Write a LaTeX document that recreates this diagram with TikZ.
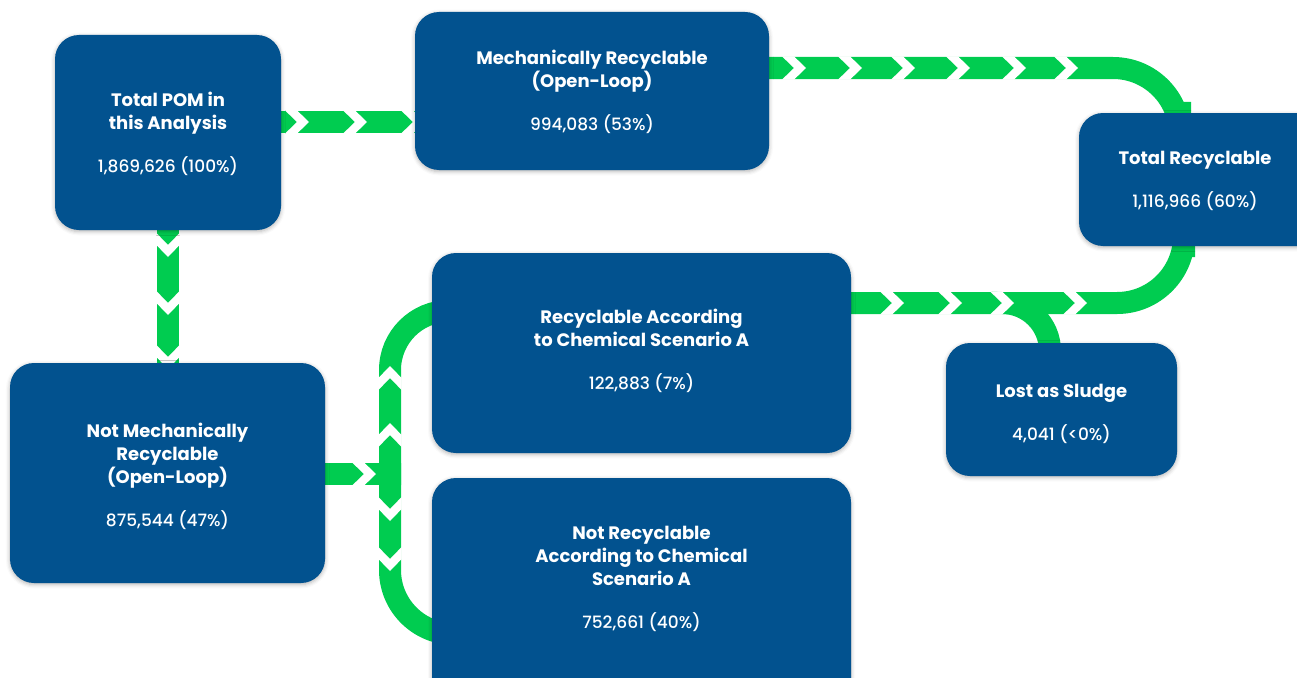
\documentclass[tikz,border=0pt]{standalone}
\usepackage{fontspec}
\setmainfont{Poppins}
\newfontfamily\numfont{Poppins Medium}
\usetikzlibrary{shadows.blur}
\definecolor{flowgreen}{HTML}{00CC50}
\definecolor{boxblue}{HTML}{02528F}
\pgfdeclarelayer{bands}
\pgfsetlayers{bands,main}
% white chevron-shaped gap cut into a green band; #1,#2 = where the gap starts, #3 = direction
\newcommand\flowgap[3]{\fill[white,shift={(#1,#2)},rotate=#3]
  (0,11.6) -- (12,11.6) -- (24,0) -- (12,-11.6) -- (0,-11.6) -- (12,0) -- cycle;}
% title lines and the figure line of a box
\newcommand\ttl[1]{{\fontsize{18}{23}\selectfont\bfseries #1}}
\newcommand\fig[1]{{\numfont #1}}
\begin{document}
\begin{tikzpicture}[x=1pt,y=-1pt,
  band/.style={draw=flowgreen,line width=22pt,line cap=rect},
  box/.style={fill=boxblue,rounded corners=24pt,inner sep=0pt,
    blur shadow={shadow xshift=0pt,shadow yshift=-1.5pt,shadow blur radius=4pt,shadow opacity=30}},
  boxtext/.style={text=white,align=center,inner sep=0pt,font=\fontsize{17}{23}\selectfont}]
\useasboundingbox (0,0) rectangle (1297,677);

% boxes
\node[box,minimum width=226pt,minimum height=195pt] (b1) at (168,132.5) {};
\node[box,minimum width=354pt,minimum height=158pt] (b2) at (592,91) {};
\node[box,minimum width=260pt,minimum height=133pt] (b3) at (1209,179.5) {};
\node[box,minimum width=419pt,minimum height=200pt] (b4) at (641.5,353) {};
\node[box,minimum width=231pt,minimum height=133pt] (b5) at (1061.5,409.5) {};
\node[box,minimum width=315pt,minimum height=220pt] (b6) at (167.5,473) {};
\node[box,minimum width=419pt,minimum height=240pt] (b7) at (641.5,598) {};

% box texts
\node[boxtext] (t1) at (168,133.5)
  {\ttl{Total POM in}\\\ttl{this Analysis}\\[20pt]\fig{1,869,626 (100\%)}};
\node[boxtext] (t2) at (592,92)
  {\ttl{Mechanically Recyclable}\\\ttl{(Open-Loop)}\\[20pt]\fig{994,083 (53\%)}};
\node[boxtext] (t3) at (1195,180.5)
  {\ttl{Total Recyclable}\\[20pt]\fig{1,116,966 (60\%)}};
\node[boxtext] (t4) at (641.5,351)
  {\ttl{Recyclable According}\\\ttl{to Chemical Scenario A}\\[20pt]\fig{122,883 (7\%)}};
\node[boxtext] (t5) at (1061.5,413.5)
  {\ttl{Lost as Sludge}\\[20pt]\fig{4,041 (<0\%)}};
\node[boxtext] (t6) at (167.5,476)
  {\ttl{Not Mechanically}\\\ttl{Recyclable}\\\ttl{(Open-Loop)}\\[20pt]\fig{875,544 (47\%)}};
\node[boxtext] (t7) at (641.5,579)
  {\ttl{Not Recyclable}\\\ttl{According to Chemical}\\\ttl{Scenario A}\\[20pt]\fig{752,661 (40\%)}};

\begin{pgfonlayer}{bands}
  % green flow bands
  \draw[band] (b1.east |- 0,122) -- (b2.west |- 0,122);
  \draw[band] (b2.east |- 0,68) -- (1113,68) arc[start angle=-90,end angle=0,radius=67]
    -- (b3.north -| 1180,0);
  \draw[band] (b4.east |- 0,303) -- (1117,303) arc[start angle=90,end angle=0,radius=67]
    -- (b3.south -| 1184,0);
  \draw[band] (1002,303) arc[start angle=-90,end angle=0,radius=48];
  \draw[band] (b1.south -| 168,0) -- (b6.north -| 168,0);
  \draw[band] (b6.east |- 0,474) -- (390,474);
  \draw[band] (390,474) -- (390,370) arc[start angle=180,end angle=270,radius=59];
  \draw[band] (390,474) -- (390,570) arc[start angle=180,end angle=90,radius=64];
  % chevron gaps
  \foreach \x in {285,343,401} {\flowgap{\x}{122}{0}}
  \foreach \x in {782,838,891,946,1002,1054} {\flowgap{\x}{68}{0}}
  \foreach \x in {880,938,990,1063} {\flowgap{\x}{303}{0}}
  \foreach \y in {233,291,345} {\flowgap{168}{\y}{-90}}
  \flowgap{352}{474}{0}
  \flowgap{390}{447}{90}
  \flowgap{390}{390}{90}
  \flowgap{390}{497}{-90}
  \flowgap{390}{547}{-90}
\end{pgfonlayer}
\end{tikzpicture}
\end{document}
